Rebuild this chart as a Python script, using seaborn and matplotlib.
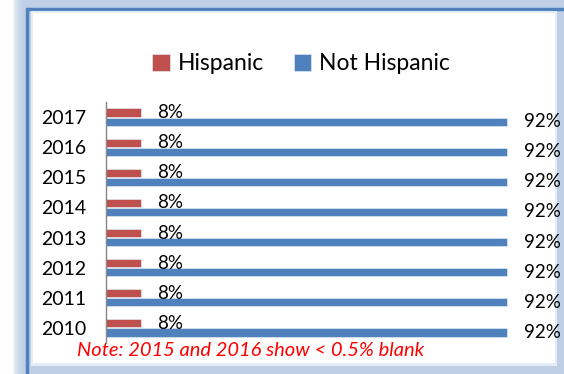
import numpy as np
import pandas as pd
import matplotlib
matplotlib.use("Agg")
import matplotlib.pyplot as plt
import seaborn as sns
from matplotlib.patches import Rectangle

years = ["2017", "2016", "2015", "2014", "2013", "2012", "2011", "2010"]
hispanic = [8, 8, 8, 8, 8, 8, 8, 8]
not_hispanic = [92, 92, 92, 92, 92, 92, 92, 92]
groups = ["Hispanic", "Not Hispanic"]
colors = ["#c0504d", "#4f81bd"]
note = "Note: 2015 and 2016 show < 0.5% blank"

W, H = 564, 374


def fx(px):
    return px / W


def fy(py):
    return 1 - py / H


def box(x0, y0, x1, y1, **kw):
    # pixel box (top-left origin) -> figure rectangle
    return Rectangle((fx(x0), fy(y1)), fx(x1) - fx(x0), (y1 - y0) / H,
                     transform=fig.transFigure, **kw)


sns.set_theme(style="white")
plt.rcParams["font.family"] = ["Lato", "DejaVu Sans"]
plt.rcParams["text.color"] = "black"

df = pd.DataFrame({
    "Year": years * 2,
    "Group": [groups[0]] * len(years) + [groups[1]] * len(years),
    "Percent": hispanic + not_hispanic,
})

fig = plt.figure(figsize=(W / 100, H / 100), dpi=100)
fig.patch.set_facecolor("white")

# frame: soft blue glow, blue border line, white inner panel
for i in range(6):
    fig.add_artist(box(13 + 2 * i, -10, W + 10, H + 10, facecolor="#b8cce4",
                       edgecolor="none", alpha=0.3, zorder=-20))
fig.add_artist(box(26.5, 8.5, W + 20, H + 20, facecolor="none",
                   edgecolor="#4f81bd", linewidth=2.5, zorder=-15))
fig.add_artist(box(31, 11, 557, 366, facecolor="#e4edf7",
                   edgecolor="none", zorder=-12))
fig.add_artist(box(33, 13, 555, 363, facecolor="white",
                   edgecolor="none", zorder=-11))

ax = fig.add_axes([fx(106), fy(343), fx(542) - fx(106), (343 - 102) / H])
ax.patch.set_visible(False)

sns.barplot(data=df, x="Percent", y="Year", hue="Group", order=years,
            hue_order=groups, palette=colors, width=0.6, gap=0.1,
            orient="h", ax=ax, edgecolor="#dfe6f0", linewidth=0.5,
            saturation=1)

for cont in ax.containers:
    ax.bar_label(cont, labels=[f"{v:g}%" for v in cont.datavalues],
                 padding=12, fontsize=13.5, color="black")

ax.set_xlim(0, 100)
ax.set(xlabel=None, ylabel=None)
ax.set_xticks([])
ax.tick_params(axis="y", length=0, pad=14, labelsize=14, labelcolor="black")
for s in ["top", "right", "bottom"]:
    ax.spines[s].set_visible(False)
ax.spines["left"].set_color("#868686")
ax.spines["left"].set_linewidth(1)

handles, labels = ax.get_legend_handles_labels()
ax.legend_.remove()
fig.legend(handles, labels, loc="center", bbox_to_anchor=(fx(301), fy(64)),
           ncol=2, frameon=False, fontsize=16.5, handlelength=0.75,
           handleheight=0.75, handletextpad=0.35, columnspacing=1.3,
           labelcolor="black")

fig.text(fx(77), fy(350), note, color="red", style="italic", fontsize=14.5,
         ha="left", va="center")

fig.savefig("out.png", dpi=100)
